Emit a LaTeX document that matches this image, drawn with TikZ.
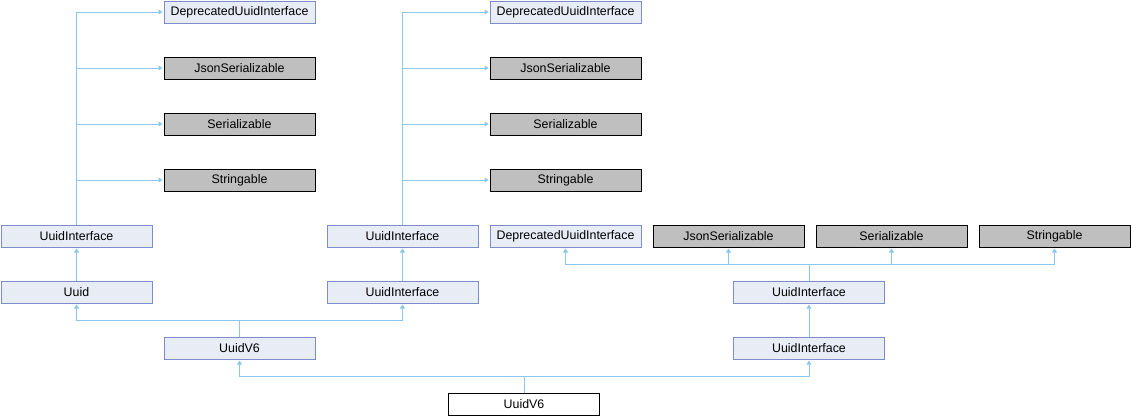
\documentclass[tikz,border=0pt]{standalone}
\usepackage{fontspec}
\setmainfont{Liberation Sans}
\usetikzlibrary{arrows.meta}
\definecolor{edgec}{HTML}{8CC8EC}
\definecolor{boxfill}{HTML}{E8ECF5}
\definecolor{boxline}{HTML}{7B8EC8}
\definecolor{grayfill}{HTML}{BFBFBF}
\tikzset{
  cls/.style={draw=boxline, fill=boxfill, line width=1pt, minimum width=151pt, minimum height=22pt, inner sep=0pt, outer sep=0pt, font=\fontsize{12.4}{14}\selectfont},
  ext/.style={cls, draw=black, fill=grayfill},
  cur/.style={cls, draw=black, fill=white},
  inh/.style={draw=edgec, line width=1pt, -{Triangle[length=4pt,width=5pt]}, shorten >=1.5pt},
  ln/.style={draw=edgec, line width=1pt}
}
\begin{document}
\begin{tikzpicture}[x=1pt,y=-1pt]
\useasboundingbox (0,0) rectangle (1131,416);
% left column
\node[cls] (ua5) at (76.5,236) {UuidInterface};
\node[cls] (uuid) at (76.5,292) {Uuid};
\node[cls] (v6a) at (239.5,348) {UuidV6};
\node[cur] (v6) at (524,404) {UuidV6};
\node[cls] (dep1) at (239.5,12) {DeprecatedUuidInterface};
\node[ext] (json1) at (239.5,68) {JsonSerializable};
\node[ext] (ser1) at (239.5,124) {Serializable};
\node[ext] (str1) at (239.5,180) {Stringable};
% middle column
\node[cls] (uc5) at (402.5,236) {UuidInterface};
\node[cls] (uc6) at (402.5,292) {UuidInterface};
\node[cls] (dep2) at (565.5,12) {DeprecatedUuidInterface};
\node[ext] (json2) at (565.5,68) {JsonSerializable};
\node[ext] (ser2) at (565.5,124) {Serializable};
\node[ext] (str2) at (565.5,180) {Stringable};
% right group
\node[cls] (dep3) at (565.5,236) {DeprecatedUuidInterface};
\node[ext] (json3) at (728.5,236) {JsonSerializable};
\node[ext] (ser3) at (891.5,236) {Serializable};
\node[ext] (str3) at (1054.5,236) {Stringable};
\node[cls] (ur6) at (809,292) {UuidInterface};
\node[cls] (ur7) at (809,348) {UuidInterface};
% junction coordinates
\coordinate (jb) at (524,376);
\coordinate (jm) at (239.5,320);
\coordinate (jr) at (809,264);
\coordinate (ja) at (76.5,12);
\coordinate (jc) at (402.5,12);
% edges
\draw[ln] (v6.north) -- (jb);
\draw[inh] (jb) -| (v6a.south);
\draw[inh] (jb) -| (ur7.south);
\draw[ln] (v6a.north) -- (jm);
\draw[inh] (jm) -| (uuid.south);
\draw[inh] (jm) -| (uc6.south);
\draw[inh] (uuid) -- (ua5);
\draw[inh] (uc6) -- (uc5);
\draw[inh] (ur7) -- (ur6);
\draw[ln] (ua5.north) -- (ja);
\draw[inh] (ja) -- (dep1.west);
\draw[inh] (ua5.north |- json1.west) -- (json1.west);
\draw[inh] (ua5.north |- ser1.west) -- (ser1.west);
\draw[inh] (ua5.north |- str1.west) -- (str1.west);
\draw[ln] (uc5.north) -- (jc);
\draw[inh] (jc) -- (dep2.west);
\draw[inh] (uc5.north |- json2.west) -- (json2.west);
\draw[inh] (uc5.north |- ser2.west) -- (ser2.west);
\draw[inh] (uc5.north |- str2.west) -- (str2.west);
\draw[ln] (ur6.north) -- (jr);
\draw[inh] (jr) -| (dep3.south);
\draw[inh] (jr) -| (json3.south);
\draw[inh] (jr) -| (ser3.south);
\draw[inh] (jr) -| (str3.south);
\end{tikzpicture}
\end{document}
